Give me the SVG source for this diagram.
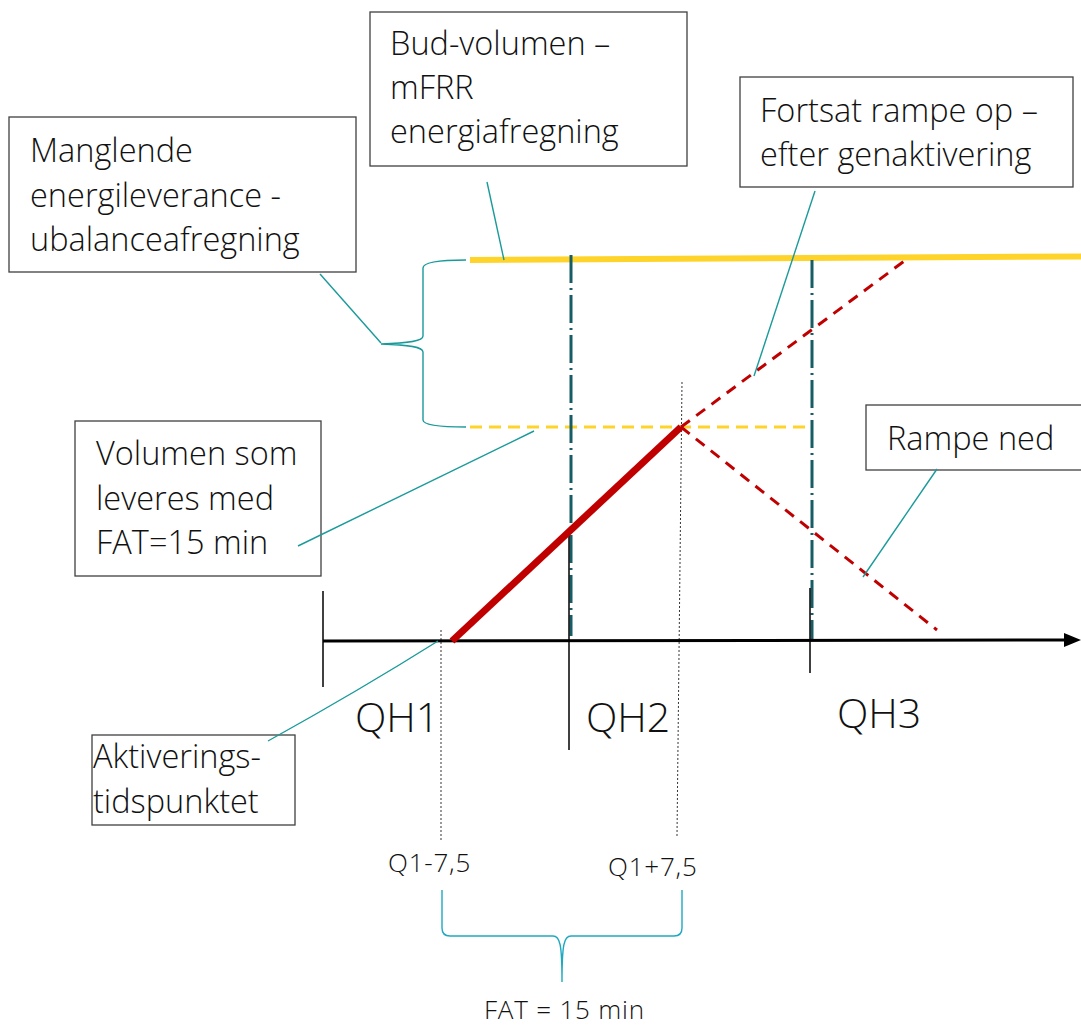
<svg xmlns="http://www.w3.org/2000/svg" width="1081" height="1025" viewBox="0 0 1081 1025">
<style>
.box{fill:#fff;stroke:#404040;stroke-width:1.3}
.t{font-family:"Open Sans","Liberation Sans",sans-serif;font-weight:300;fill:#111;font-size:32.5px}
.qh{font-size:41px}
.sm{font-size:26px;letter-spacing:0.8px}
.call{fill:none;stroke:#1a9a9a;stroke-width:1.4}
.brace2{fill:none;stroke:#1fa9c0;stroke-width:1.4}
.dd{fill:none;stroke:#175d66;stroke-width:3;stroke-dasharray:28 5 2 5}
.dot{fill:none;stroke:#333;stroke-width:1;stroke-dasharray:2 2}
.blk{fill:none;stroke:#000;stroke-width:1.5}
.rdash{fill:none;stroke:#c00000;stroke-width:3;stroke-dasharray:11 8}
</style>
<g id="node-bud">
<rect class="box" x="370" y="12" width="317" height="154"/>
<text class="t" x="390" y="55">Bud-volumen –</text>
<text class="t" x="390" y="99">mFRR</text>
<text class="t" x="390" y="143">energiafregning</text>
</g>
<g id="node-fortsat">
<rect class="box" x="740" y="77" width="333" height="110"/>
<text class="t" x="760" y="122">Fortsat rampe op –</text>
<text class="t" x="760" y="166">efter genaktivering</text>
</g>
<g id="node-manglende">
<rect class="box" x="9" y="117" width="347" height="155"/>
<text class="t" x="30" y="162">Manglende</text>
<text class="t" x="30" y="207">energileverance -</text>
<text class="t" x="30" y="251">ubalanceafregning</text>
</g>
<g id="node-volumen">
<rect class="box" x="75" y="421" width="246" height="155"/>
<text class="t" x="96" y="465">Volumen som</text>
<text class="t" x="96" y="510">leveres med</text>
<text class="t" x="96" y="554">FAT=15 min</text>
</g>
<g id="node-rampe-ned">
<rect class="box" x="866" y="405" width="220" height="65"/>
<text class="t" x="887" y="450">Rampe ned</text>
</g>
<g id="node-aktivering">
<rect class="box" x="92" y="735" width="203" height="90"/>
<text class="t" x="93" y="768">Aktiverings-</text>
<text class="t" x="93" y="813">tidspunktet</text>
</g>
<g id="connectors">
<line class="dot" x1="441" y1="630" x2="441" y2="842"/>
<line class="dot" x1="682" y1="382" x2="677" y2="836"/>
<line x1="470" y1="260" x2="1081" y2="256.5" stroke="#ffd42a" stroke-width="6"/>
<line x1="470" y1="427" x2="810" y2="427" stroke="#ffd42a" stroke-width="3" stroke-dasharray="12 7"/>
<line class="dd" x1="571" y1="255" x2="571" y2="636"/>
<line class="dd" x1="812" y1="260" x2="812" y2="640"/>
<line x1="323" y1="641" x2="1070" y2="640" stroke="#000" stroke-width="3"/>
<path d="M1064,633 L1081,640 L1064,647 Z" fill="#000"/>
<line class="blk" x1="323" y1="591" x2="323" y2="687"/>
<line class="blk" x1="569" y1="533" x2="569" y2="750"/>
<line class="blk" x1="810" y1="588" x2="810" y2="673"/>
<line x1="452" y1="641" x2="681" y2="427" stroke="#c00000" stroke-width="7"/>
<line class="rdash" x1="681" y1="427" x2="907" y2="259"/>
<line class="rdash" x1="681" y1="427" x2="937" y2="630"/>
<line class="call" x1="487" y1="182" x2="504" y2="260"/>
<line class="call" x1="815" y1="191" x2="754" y2="376"/>
<line class="call" x1="320" y1="274" x2="381" y2="343"/>
<path class="call" d="M466,260 C440,260 423,262 423,268 L423,336 C423,341 410,343 381,344 C410,345 423,347 423,352 L423,420 C423,425 440,427 466,427"/>
<line class="call" x1="298" y1="546" x2="534" y2="431"/>
<line class="call" x1="937" y1="469" x2="863" y2="577"/>
<path class="call" d="M268,741 Q360,690 438,641"/>
<path class="brace2" d="M442,890 L442,928 C442,934 445,936 450,936 L553,936 C560,936 562,944 562,982 C562,944 564,936 571,936 L674,936 C679,936 682,934 682,928 L682,890"/>
</g>
<g id="labels">
<text class="t qh" x="355" y="732">QH1</text>
<text class="t qh" x="586" y="732">QH2</text>
<text class="t qh" x="837" y="728">QH3</text>
<text class="t sm" x="388" y="872">Q1-7,5</text>
<text class="t sm" x="608" y="876">Q1+7,5</text>
<text class="t sm" x="484" y="1019">FAT = 15 min</text>
</g>
</svg>
